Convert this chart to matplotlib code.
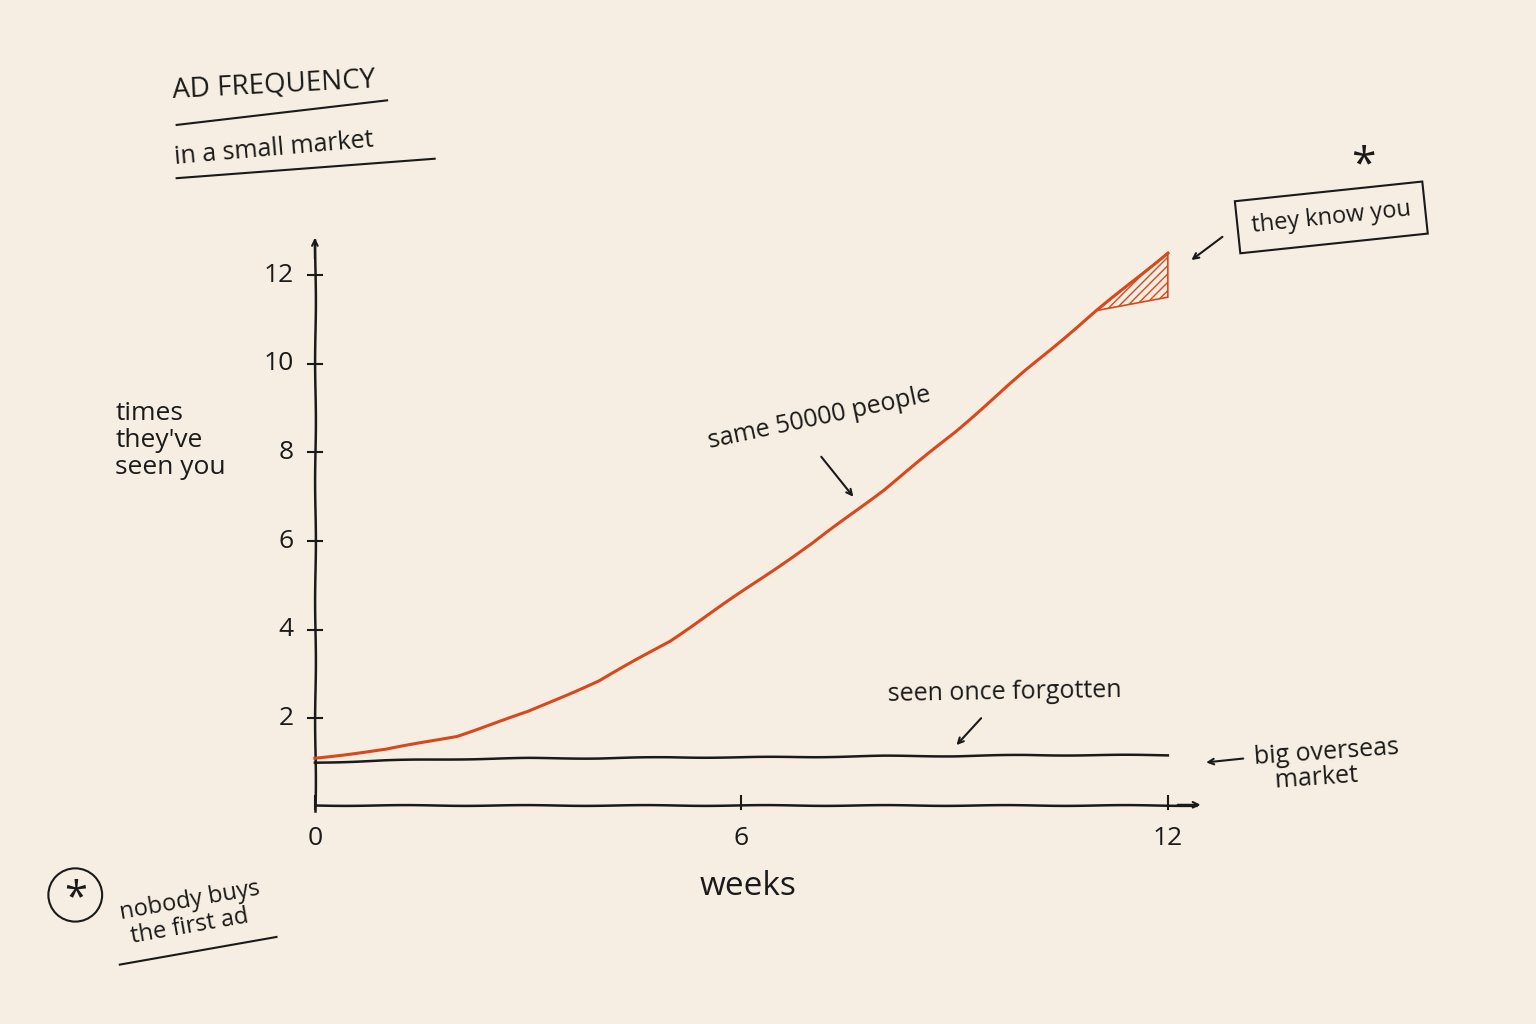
import matplotlib
matplotlib.use("Agg")
import matplotlib.pyplot as plt
import numpy as np

weeks = [0,1,2,3,4,5,6,7,8,9,10,11,12]
small_market = [1.1,1.3,1.6,2.15,2.85,3.75,4.85,5.95,7.15,8.45,9.85,11.2,12.5]
big_market = [1.0,1.05,1.08,1.1,1.1,1.12,1.12,1.13,1.15,1.15,1.17,1.17,1.17]
yticks = [2,4,6,8,10,12]
xticks = [0,6,12]

bg = "#f6eee2"
orange = "#d9481c"
ink = "#1a1a1a"
plt.rcParams['font.family'] = ['Open Sans', 'DejaVu Sans']

fig = plt.figure(figsize=(15.36,10.24), dpi=100, facecolor=bg)
ax = fig.add_axes([0.205, 0.2119, 0.5553, 0.5195])
ax.set_facecolor(bg)
ax.set_xlim(0,12); ax.set_ylim(0,12)
ax.axis('off')
with plt.rc_context({'path.sketch': (0.4, 120, 1)}):
    ax.plot([0,0.0],[-0.1,12.8], color=ink, lw=1.8, clip_on=False)
    ax.plot([0,12.4],[0.05,0.05], color=ink, lw=1.8, clip_on=False)
    ax.plot(weeks, big_market, color=ink, lw=1.8, clip_on=False)
    ax.plot(weeks, small_market, color=orange, lw=2.2, clip_on=False)
ax.annotate("", xy=(0,12.9), xytext=(0,12.3), arrowprops=dict(arrowstyle="->", color=ink, lw=1.5), annotation_clip=False)
ax.annotate("", xy=(12.5,0.05), xytext=(12.1,0.05), arrowprops=dict(arrowstyle="->", color=ink, lw=1.5), annotation_clip=False)
for t in yticks:
    ax.plot([-0.1,0.1],[t,t], color=ink, lw=1.5, clip_on=False)
    ax.text(-0.3, t, str(t), ha='right', va='center', fontsize=19, color=ink)
for t in xticks:
    ax.plot([t,t],[-0.05,0.25], color=ink, lw=1.5, clip_on=False)
    ax.text(t, -0.7, str(t), ha='center', va='center', fontsize=19, color=ink)
hx = [11.0, 12, 12]
hy = [11.2, 12.5, 11.5]
ax.fill(hx, hy, facecolor='none', edgecolor=orange, hatch='////', lw=1.2, clip_on=False)

ax.text(6.1, -1.8, "weeks", ha='center', va='center', fontsize=24, color=ink)
fig.text(0.075, 0.57, "times\nthey've\nseen you", fontsize=19, color=ink, va='center', linespacing=1.1)
fig.text(0.112, 0.905, "AD FREQUENCY", fontsize=20, color=ink, rotation=3)
fig.add_artist(plt.Line2D([0.115,0.252],[0.878,0.902], color=ink, lw=1.5))
fig.text(0.113, 0.84, "in a small market", fontsize=18, color=ink, rotation=5)
fig.add_artist(plt.Line2D([0.115,0.283],[0.826,0.845], color=ink, lw=1.5))

ax.text(5.5, 8.1, "same 50000 people", fontsize=18, color=ink, rotation=12)
ax.annotate("", xy=(7.6,6.95), xytext=(7.1,7.95), arrowprops=dict(arrowstyle="->", color=ink, lw=1.5))
ax.text(9.7, 2.4, "seen once forgotten", fontsize=18, color=ink, ha='center', rotation=1)
ax.annotate("", xy=(9.0,1.35), xytext=(9.4,2.05), arrowprops=dict(arrowstyle="->", color=ink, lw=1.5))
ax.annotate("", xy=(12.5,1.0), xytext=(13.1,1.1), arrowprops=dict(arrowstyle="->", color=ink, lw=1.5), annotation_clip=False)
ax.text(13.2, 0.95, "big overseas\n   market", fontsize=18, color=ink, va='center', rotation=4, linespacing=1.0)
ax.annotate("", xy=(12.3,12.3), xytext=(12.8,12.9), arrowprops=dict(arrowstyle="->", color=ink, lw=1.5), annotation_clip=False)
ax.text(14.3, 13.3, "they know you", fontsize=17, color=ink, va='center', ha='center', rotation=6,
        bbox=dict(boxstyle='square,pad=0.6', fc='none', ec=ink, lw=1.5))
ax.text(14.75, 14.45, "*", fontsize=32, color=ink, ha='center', va='center')
fig.add_artist(matplotlib.patches.Ellipse((0.049, 0.126), 0.035, 0.052, transform=fig.transFigure, fill=False, ec=ink, lw=1.5))
fig.text(0.049, 0.122, "*", fontsize=30, color=ink, ha='center', va='center')
fig.text(0.077, 0.078, "nobody buys\n the first ad", fontsize=17, color=ink, rotation=10, linespacing=1.1)
fig.add_artist(plt.Line2D([0.078,0.18],[0.058,0.085], color=ink, lw=1.5))
fig.savefig("out.png", dpi=100, facecolor=bg)
